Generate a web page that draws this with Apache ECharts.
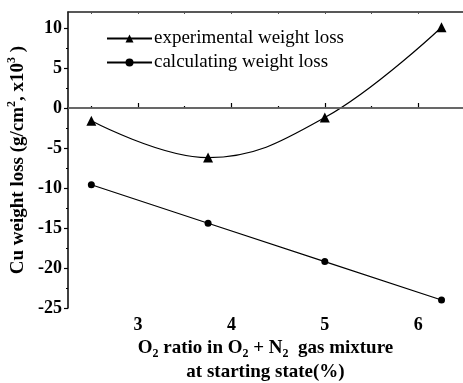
<!DOCTYPE html>
<html>
<head>
<meta charset="utf-8">
<script src="https://cdn.jsdelivr.net/npm/echarts@6/dist/echarts.min.js"></script>
<style>
  html, body { margin: 0; padding: 0; background: #fff; }
  #chart { width: 463px; height: 383px; }
</style>
</head>
<body>
<div id="chart"></div>
<script>
// O2 ratio (%)
const o2Ratio = [2.5, 3.75, 5, 6.25]
// weight loss values (g/cm2, x10^3)
const experimental = [-1.6, -6.2, -1.2, 10.1]
const calculating = [-9.6, -14.4, -19.2, -24.0]
// tick values
const xMajorTicks = [3, 4, 5, 6]
const xMinorTicks = [2.5, 3.5, 4.5, 5.5]
const xTopTicks = [2.5, 3, 3.5, 4, 4.5, 5, 5.5, 6]
const yMajorTicks = [-25, -20, -15, -10, -5, 0, 5, 10]
const yMinorTicks = [-22.5, -17.5, -12.5, -7.5, -2.5, 2.5, 7.5]

const font = 'Liberation Serif'
const xMin = 2.25
const xMax = 6.48
const yMin = -25
const yMax = 12

const myChart = echarts.init(document.getElementById('chart'))

const option = {
  animation: false,
  backgroundColor: '#fff',
  textStyle: { fontFamily: font, color: '#000' },
  grid: { left: 68, right: 0, top: 12, bottom: 75, containLabel: false, outerBoundsMode: 'none' },
  legend: {
    left: 101,
    top: 24,
    orient: 'vertical',
    itemWidth: 45,
    itemHeight: 10,
    itemGap: 5,
    textStyle: { fontFamily: font, fontSize: 19, color: '#000', padding: [0, 0, 0, -3] },
    data: ['experimental weight loss', 'calculating weight loss']
  },
  xAxis: [
    {
      type: 'value',
      position: 'bottom',
      min: xMin,
      max: xMax,
      axisLine: { lineStyle: { color: '#000', width: 1.5 } },
      axisTick: { inside: true, length: 5, customValues: xMajorTicks, lineStyle: { color: '#000', width: 1.2 } },
      axisLabel: {
        customValues: xMajorTicks,
        fontFamily: font,
        fontSize: 18,
        fontWeight: 'bold',
        color: '#000',
        margin: 8
      },
      splitLine: { show: false },
      name: '{b|O}{s|2}{b| ratio in O}{s|2}{b| + N}{s|2}{b|  gas mixture}\n{b|at starting state(%)}',
      nameLocation: 'middle',
      nameGap: 21,
      nameTextStyle: {
        rich: {
          b: { fontFamily: font, fontSize: 19, fontWeight: 'bold', color: '#000', lineHeight: 24 },
          s: { fontFamily: font, fontSize: 12, fontWeight: 'bold', color: '#000', lineHeight: 15, verticalAlign: 'bottom' }
        }
      }
    },
    {
      type: 'value',
      position: 'bottom',
      min: xMin,
      max: xMax,
      axisLine: { show: false },
      axisTick: { inside: true, length: 2, customValues: xMinorTicks, lineStyle: { color: '#000', width: 1.2 } },
      axisLabel: { show: false },
      splitLine: { show: false }
    },
    {
      type: 'value',
      position: 'top',
      min: xMin,
      max: xMax,
      axisLine: { lineStyle: { color: '#222', width: 1.5 } },
      axisTick: { inside: true, length: 2, customValues: xTopTicks, lineStyle: { color: '#555', width: 1 } },
      axisLabel: { show: false },
      splitLine: { show: false }
    }
  ],
  yAxis: [
    {
      type: 'value',
      min: yMin,
      max: yMax,
      axisLine: { show: true, lineStyle: { color: '#000', width: 1.5 } },
      axisTick: { show: true, length: 4, customValues: yMajorTicks, lineStyle: { color: '#000', width: 1.2 } },
      axisLabel: {
        customValues: yMajorTicks,
        fontFamily: font,
        fontSize: 18,
        fontWeight: 'bold',
        color: '#000',
        margin: 6
      },
      splitLine: { show: false },
      name: '{b|Cu weight loss (g/cm}{p|2}{b|, x10}{p|3}{b| )}',
      nameLocation: 'middle',
      nameGap: 37,
      nameTextStyle: {
        rich: {
          b: { fontFamily: font, fontSize: 19, fontWeight: 'bold', color: '#000', lineHeight: 24 },
          p: { fontFamily: font, fontSize: 12, fontWeight: 'bold', color: '#000', lineHeight: 15, verticalAlign: 'top' }
        }
      }
    },
    {
      type: 'value',
      min: yMin,
      max: yMax,
      position: 'left',
      axisLine: { show: false },
      axisTick: { show: true, length: 2, customValues: yMinorTicks, lineStyle: { color: '#000', width: 1.2 } },
      axisLabel: { show: false },
      splitLine: { show: false }
    }
  ],
  series: [
    {
      name: 'experimental weight loss',
      type: 'line',
      smooth: 0.4,
      data: o2Ratio.map((x, i) => [x, experimental[i]]),
      symbol: 'triangle',
      symbolSize: 10,
      itemStyle: { color: '#000' },
      lineStyle: { color: '#000', width: 1.2 },
      markLine: {
        silent: true,
        symbol: 'none',
        label: { show: false },
        lineStyle: { color: '#777', width: 1.5, type: 'solid' },
        data: [{ yAxis: 0 }]
      }
    },
    {
      name: 'calculating weight loss',
      type: 'line',
      data: o2Ratio.map((x, i) => [x, calculating[i]]),
      symbol: 'circle',
      symbolSize: 7,
      itemStyle: { color: '#000' },
      lineStyle: { color: '#000', width: 1.2 }
    }
  ]
}

myChart.setOption(option)
</script>
</body>
</html>
